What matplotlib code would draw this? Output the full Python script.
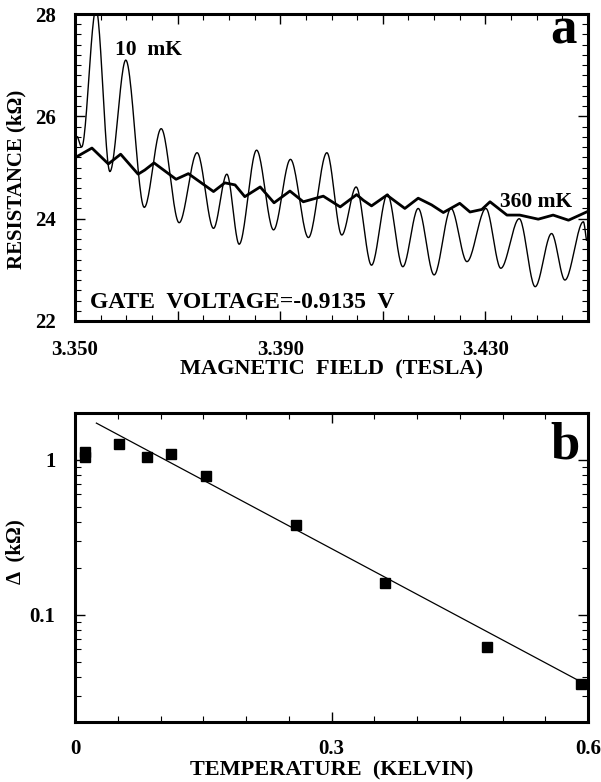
import numpy as np
import matplotlib
matplotlib.use("Agg")
import matplotlib.pyplot as plt
from matplotlib.ticker import FixedLocator, MultipleLocator, LogLocator, NullFormatter

plt.rcParams['font.family'] = ['Liberation Serif', 'DejaVu Serif']
plt.rcParams['font.weight'] = 'bold'

# ---- panel a: magnetoresistance oscillations ----
field_10mK = [3.3505, 3.3513, 3.3541, 3.3568, 3.3599, 3.3635, 3.3668, 3.3703,
              3.3738, 3.3770, 3.3796, 3.3820, 3.3854, 3.3887, 3.3920, 3.3955,
              3.3991, 3.4020, 3.4048, 3.4078, 3.4109, 3.4139, 3.4169, 3.4200,
              3.4233, 3.4264, 3.4301, 3.4330, 3.4366, 3.4397, 3.4429, 3.4455,
              3.4491, 3.4497]
res_10mK = [25.60, 25.40, 28.10, 24.92, 27.10, 24.22, 25.76, 23.92,
            25.29, 23.81, 24.87, 23.50, 25.34, 23.78, 25.16, 23.63,
            25.29, 23.68, 24.62, 23.09, 24.48, 23.06, 24.20, 22.90,
            24.20, 23.16, 24.20, 23.03, 24.00, 22.67, 23.71, 22.80,
            23.94, 23.58]

field_360mK = [3.3505, 3.3533, 3.3565, 3.3589, 3.3623, 3.3636, 3.3654, 3.3697,
               3.3721, 3.3770, 3.3792, 3.3812, 3.3831, 3.3861, 3.3888, 3.3919,
               3.3945, 3.3984, 3.4017, 3.4049, 3.4062, 3.4078, 3.4108, 3.4143,
               3.4169, 3.4195, 3.4218, 3.4250, 3.4270, 3.4293, 3.4309, 3.4342,
               3.4367, 3.4403, 3.4432, 3.4462, 3.4484, 3.4497]
res_360mK = [25.22, 25.38, 25.07, 25.26, 24.87, 24.95, 25.09, 24.77,
             24.88, 24.53, 24.70, 24.66, 24.43, 24.62, 24.31, 24.54,
             24.33, 24.44, 24.23, 24.47, 24.36, 24.25, 24.46, 24.20,
             24.40, 24.27, 24.12, 24.30, 24.13, 24.18, 24.33, 24.07,
             24.07, 23.99, 24.07, 23.97, 24.07, 24.13]

field_ticks = [3.350, 3.370, 3.390, 3.410, 3.430, 3.450]
field_tick_labels = ['3.350', '', '3.390', '', '3.430', '']
res_ticks = [22, 24, 26, 28]
res_tick_labels = ['22', '24', '26', '28']

# ---- panel b: oscillation amplitude vs temperature ----
temperature = [0.012, 0.012, 0.052, 0.084, 0.112, 0.153, 0.258, 0.363, 0.482, 0.592]
amplitude = [1.13, 1.05, 1.27, 1.04, 1.10, 0.79, 0.379, 0.160, 0.0625, 0.036]
fit_temperature = [0.025, 0.592]
fit_amplitude = [1.73, 0.037]

temp_ticks = [0.0, 0.3, 0.6]
temp_tick_labels = ['0', '0.3', '0.6']
amp_ticks = [0.1, 1]
amp_tick_labels = ['0.1', '1']


def smooth_trace(x, y, n=24):
    """Monotone cubic (PCHIP) path through the given points for a smooth stroke."""
    x = np.asarray(x, float)
    y = np.asarray(y, float)
    h = np.diff(x)
    d = np.diff(y) / h
    m = np.zeros_like(y)
    for k in range(1, len(x) - 1):
        if d[k - 1] * d[k] > 0:
            w1 = 2 * h[k] + h[k - 1]
            w2 = h[k] + 2 * h[k - 1]
            m[k] = (w1 + w2) / (w1 / d[k - 1] + w2 / d[k])
    m[0] = d[0]
    m[-1] = d[-1]
    xs, ys = [], []
    for k in range(len(x) - 1):
        t = np.linspace(0, 1, n, endpoint=False)
        h00 = 2 * t**3 - 3 * t**2 + 1
        h10 = t**3 - 2 * t**2 + t
        h01 = -2 * t**3 + 3 * t**2
        h11 = t**3 - t**2
        xs.append(x[k] + t * h[k])
        ys.append(h00 * y[k] + h10 * h[k] * m[k] + h01 * y[k + 1] + h11 * h[k] * m[k + 1])
    xs.append([x[-1]])
    ys.append([y[-1]])
    return np.concatenate(xs), np.concatenate(ys)


fig = plt.figure(figsize=(6.01, 7.82), dpi=100)
W, H = 601, 782


def box(l, t, r, b):
    return [l / W, 1 - b / H, (r - l) / W, (b - t) / H]


def style_axes(ax):
    for s in ax.spines.values():
        s.set_linewidth(2.2)
    ax.tick_params(which='both', direction='in', top=True, right=True,
                   labelsize=15, pad=14)
    ax.tick_params(which='major', length=7, width=1.0)
    ax.tick_params(which='minor', length=4, width=0.8)
    for lab in ax.get_xticklabels() + ax.get_yticklabels():
        lab.set_fontweight('bold')


# panel a
axa = fig.add_axes(box(75, 14, 588, 321))
sx, sy = smooth_trace(field_10mK, res_10mK)
axa.plot(sx, sy, color='black', lw=1.0)
axa.plot(field_360mK, res_360mK, color='black', lw=2.0, solid_joinstyle='round')
axa.set_xlim(3.350, 3.450)
axa.set_ylim(22, 28)
axa.xaxis.set_major_locator(FixedLocator(field_ticks))
axa.set_xticklabels(field_tick_labels)
axa.xaxis.set_minor_locator(MultipleLocator(0.005))
axa.yaxis.set_major_locator(FixedLocator(res_ticks))
axa.set_yticklabels(res_tick_labels)
axa.yaxis.set_minor_locator(MultipleLocator(0.2))
style_axes(axa)
axa.tick_params(axis='y', pad=14)
axa.set_xlabel('MAGNETIC  FIELD  (TESLA)', fontsize=16, fontweight='bold', labelpad=-1)
axa.set_ylabel('RESISTANCE (k\u03a9)', fontsize=15, fontweight='bold')
axa.yaxis.set_label_coords(-0.094, 0.4625)
axa.text(3.3578, 27.29, '10  mK', fontsize=15.5, fontweight='bold', va='center')
axa.text(3.4328, 24.32, '360 mK', fontsize=15.5, fontweight='bold', va='center')
axa.text(3.3529, 22.37, 'GATE  VOLTAGE=-0.9135  V', fontsize=17, fontweight='bold',
         va='center')
axa.text(0.978, 0.9055, 'a', transform=axa.transAxes, ha='right', va='baseline',
         fontsize=38, fontweight='bold')

# panel b
axb = fig.add_axes(box(75, 413, 588, 722))
axb.set_yscale('log')
axb.plot(temperature, amplitude, linestyle='none', marker='s', markersize=6.5,
         color='black')
axb.plot(fit_temperature, fit_amplitude, color='black', lw=0.9)
axb.set_xlim(0, 0.6)
axb.set_ylim(0.0204, 2.01)
axb.xaxis.set_major_locator(FixedLocator(temp_ticks))
axb.set_xticklabels(temp_tick_labels)
axb.xaxis.set_minor_locator(MultipleLocator(0.05))
axb.yaxis.set_major_locator(FixedLocator(amp_ticks))
axb.set_yticklabels(amp_tick_labels)
axb.yaxis.set_minor_locator(LogLocator(base=10, subs=range(2, 10)))
axb.yaxis.set_minor_formatter(NullFormatter())
style_axes(axb)
axb.tick_params(axis='x', pad=12)
axb.tick_params(axis='y', pad=14)
axb.set_xlabel('TEMPERATURE  (KELVIN)', fontsize=16, fontweight='bold', labelpad=1)
axb.set_ylabel('\u0394  (k\u03a9)', fontsize=15, fontweight='bold')
axb.yaxis.set_label_coords(-0.096, 0.55)
axb.text(0.984, 0.854, 'b', transform=axb.transAxes, ha='right', va='baseline',
         fontsize=38, fontweight='bold')

fig.savefig('out.png', dpi=100)
